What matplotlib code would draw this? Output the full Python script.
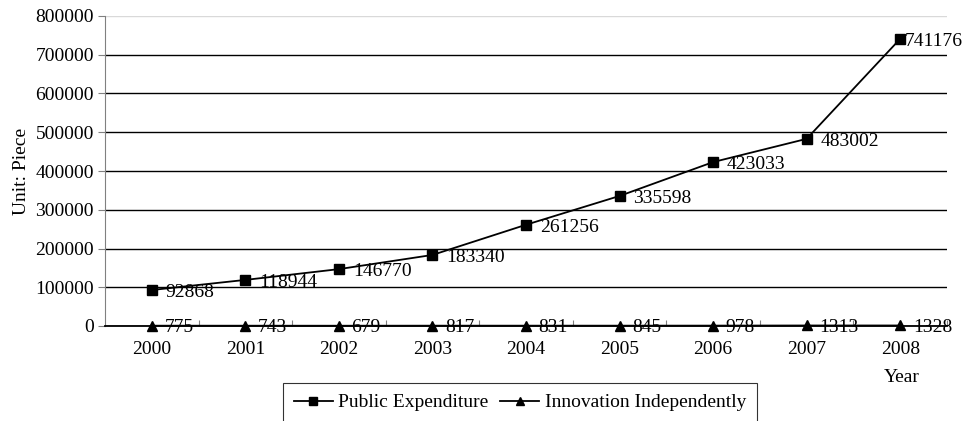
import matplotlib
matplotlib.use('Agg')
import matplotlib.pyplot as plt
from matplotlib.ticker import FixedLocator

# Data
years = ['2000', '2001', '2002', '2003', '2004', '2005', '2006', '2007', '2008']
public_expenditure = [92868, 118944, 146770, 183340, 261256, 335598, 423033, 483002, 741176]
innovation_independently = [775, 743, 679, 817, 831, 845, 978, 1313, 1328]

plt.rcParams['font.family'] = ['Liberation Serif', 'DejaVu Serif']
FS = 14

fig = plt.figure(figsize=(9.64, 4.21), dpi=100)
ax = fig.add_axes([105/964, 1 - 326/421, (947 - 105)/964, (326 - 16)/421])

x = list(range(len(years)))

ax.plot(x, public_expenditure, color='black', linewidth=1.3, marker='s',
        markersize=6.5, label='Public Expenditure', zorder=4, clip_on=False)
ax.plot(x, innovation_independently, color='black', linewidth=1.3, marker='^',
        markersize=6.5, label='Innovation Independently', zorder=4, clip_on=False)

# Data labels (right of each marker)
for i, v in enumerate(public_expenditure):
    dx = 3 if i == len(years) - 1 else 10
    ax.annotate(str(v), (x[i], v), xytext=(dx, -2), textcoords='offset points',
                ha='left', va='center', fontsize=FS, zorder=5)
for i, v in enumerate(innovation_independently):
    ax.annotate(str(v), (x[i], v), xytext=(9, -1.5), textcoords='offset points',
                ha='left', va='center', fontsize=FS, zorder=5)

ax.set_xlim(-0.5, len(years) - 0.5)
ax.set_ylim(0, 800000)
ax.set_yticks(range(0, 800001, 100000))
ax.set_xticks(x)
ax.set_xticklabels(years, fontsize=FS)
ax.tick_params(axis='x', which='major', length=0, pad=11)
ax.xaxis.set_minor_locator(FixedLocator([i + 0.5 for i in x[:-1]] + [len(years) - 0.5]))
ax.tick_params(axis='x', which='minor', direction='in', length=4, color='#808080', width=0.8)
ax.tick_params(axis='y', labelsize=FS, length=5, color='#808080', width=0.8, pad=3)

# Grid
ax.yaxis.grid(True, color='black', linewidth=1.0)
ax.set_axisbelow(True)
ax.get_ygridlines()[-1].set_color('#d9d9d9')

for side in ['top', 'right']:
    ax.spines[side].set_visible(False)
ax.spines['left'].set_color('#808080')
ax.spines['bottom'].set_color('black')
ax.spines['bottom'].set_linewidth(1.3)

ax.set_ylabel('Unit: Piece', fontsize=FS, labelpad=4)
fig.text(902/964, 1 - 378/421, 'Year', ha='center', va='center', fontsize=FS)

leg = fig.legend(loc='upper center', bbox_to_anchor=(520/964, 1 - 383/421), ncol=2,
                 fontsize=FS, frameon=True, fancybox=False, edgecolor='black',
                 handlelength=2.0, handletextpad=0.3, columnspacing=0.6,
                 borderpad=0.55, borderaxespad=0, markerscale=0.9)
leg.get_frame().set_linewidth(0.8)

fig.savefig('out.png', dpi=100)
